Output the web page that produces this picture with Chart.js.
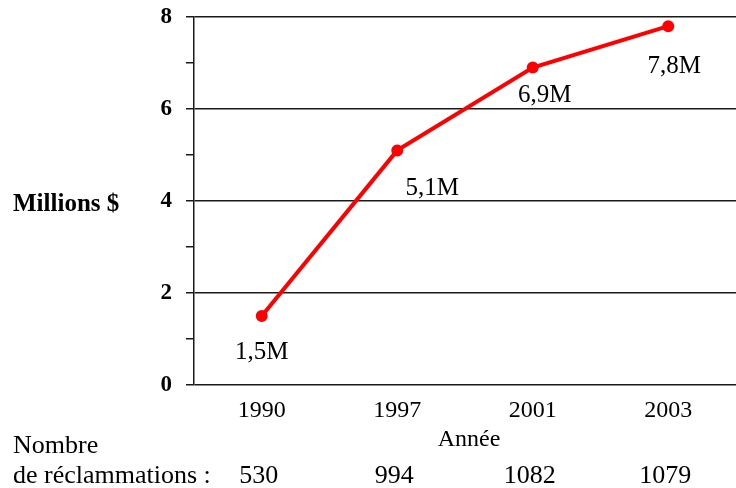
<!DOCTYPE html>
<html>
<head>
<meta charset="utf-8">
<script src="https://cdn.jsdelivr.net/npm/chart.js@4/dist/chart.umd.min.js"></script>
<style>
  html, body { margin: 0; padding: 0; background: #fff; }
  #wrap { width: 736px; height: 488px; }
</style>
</head>
<body>
<div id="wrap"><canvas id="c" width="736" height="488"></canvas></div>
<script>
// Claims payouts (millions of dollars) by year, with number of claims
const years = ['1990', '1997', '2001', '2003'];
const payoutMillions = [1.5, 5.1, 6.9, 7.8];
const claimCounts = [530, 994, 1082, 1079];
const yTickValues = [0, 2, 4, 6, 8];

const SERIF = '"Liberation Serif", "Times New Roman", serif';

// Value labels next to each point, offset in pixels from the point
const valueLabelPlugin = {
  id: 'valueLabels',
  afterDatasetsDraw(chart, args, opts) {
    const ctx = chart.ctx;
    const meta = chart.getDatasetMeta(0);
    ctx.save();
    ctx.font = '25px ' + SERIF;
    ctx.fillStyle = '#000';
    ctx.textAlign = 'center';
    ctx.textBaseline = 'middle';
    meta.data.forEach((pt, i) => {
      const v = chart.data.datasets[0].data[i];
      const off = opts.offsets[i];
      const txt = v.toFixed(1).replace('.', ',') + 'M';
      ctx.fillText(txt, pt.x + off[0], pt.y + off[1]);
    });
    ctx.restore();
  }
};

// Axis captions and the claims-count row under the x axis
const captionPlugin = {
  id: 'captions',
  afterDraw(chart) {
    const ctx = chart.ctx;
    const xs = chart.scales.x;
    const ca = chart.chartArea;
    ctx.save();
    ctx.fillStyle = '#000';
    ctx.textBaseline = 'middle';

    ctx.font = 'bold 25px ' + SERIF;
    ctx.textAlign = 'left';
    ctx.fillText('Millions $', 13, 205);

    ctx.font = '24px ' + SERIF;
    ctx.textAlign = 'center';
    ctx.fillText('Année', (ca.left + ca.right) / 2 + 4, 440);

    ctx.font = '26px ' + SERIF;
    ctx.textAlign = 'left';
    ctx.fillText('Nombre', 13, 446);
    ctx.fillText('de réclammations :', 13, 476);

    ctx.textAlign = 'center';
    claimCounts.forEach((n, i) => {
      ctx.fillText(String(n), xs.getPixelForValue(i) - 3, 476);
    });
    ctx.restore();
  }
};

new Chart(document.getElementById('c'), {
  type: 'line',
  data: {
    labels: years,
    datasets: [{
      data: payoutMillions,
      borderColor: '#ff0000',
      backgroundColor: '#ff0000',
      borderWidth: 4,
      pointRadius: 4,
      pointHoverRadius: 4,
      pointStyle: 'circle',
      tension: 0,
      fill: false
    }]
  },
  options: {
    responsive: false,
    animation: false,
    devicePixelRatio: 1,
    layout: { autoPadding: false, padding: { top: 17, right: 0, bottom: 0, left: 0 } },
    plugins: {
      legend: { display: false },
      tooltip: { enabled: false },
      valueLabels: { offsets: [[0, 36], [35, 38], [12, 28], [6, 40]] }
    },
    scales: {
      x: {
        type: 'category',
        offset: true,
        grid: { display: false, drawTicks: false },
        border: { display: false },
        ticks: {
          color: '#000',
          font: { family: SERIF, size: 24 },
          padding: 11,
          maxRotation: 0,
          autoSkip: false
        },
        afterFit(scale) {
          scale.height = 103;
          scale.paddingLeft = 0;
          scale.paddingRight = 0;
        }
      },
      y: {
        min: 0,
        max: 8,
        ticks: {
          stepSize: 1,
          color: '#000',
          font: { family: SERIF, size: 23, weight: 'bold' },
          padding: 14,
          callback: (v) => (yTickValues.includes(v) ? String(v) : '')
        },
        grid: {
          color: (c) => (c.tick && yTickValues.includes(c.tick.value) ? '#1a1a1a' : 'rgba(0,0,0,0)'),
          tickColor: '#1a1a1a',
          tickLength: 8,
          lineWidth: 1.5,
          tickWidth: 1.5
        },
        border: { display: true, color: '#1a1a1a', width: 1.5 },
        afterFit(scale) {
          scale.width = 194;
          scale.paddingTop = 0;
          scale.paddingBottom = 0;
        }
      }
    }
  },
  plugins: [valueLabelPlugin, captionPlugin]
});
</script>
</body>
</html>
